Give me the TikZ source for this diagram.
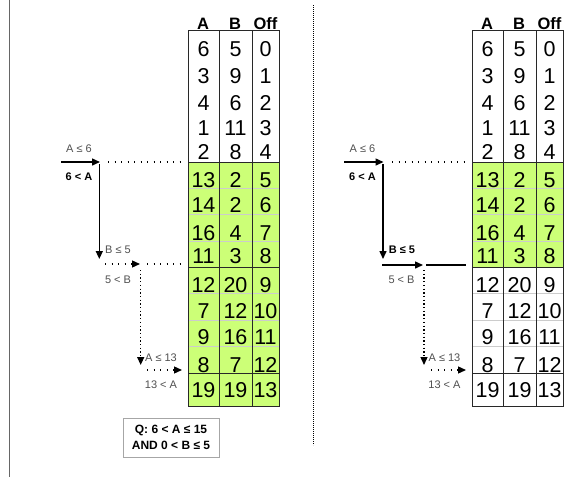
\documentclass[tikz,border=0pt]{standalone}
\usepackage{fontspec}
\setmainfont{Liberation Sans}
\usetikzlibrary{arrows.meta}
\definecolor{lime}{RGB}{204,255,119}
\definecolor{lbl}{RGB}{80,80,80}
\definecolor{blk}{RGB}{40,40,40}
\begin{document}
\begin{tikzpicture}[x=1pt,y=-1pt,
  num/.style={font=\fontsize{21.5}{21.5}\selectfont, anchor=base, inner sep=0pt},
  hdr/.style={font=\fontsize{16.5}{16.5}\selectfont\bfseries, anchor=base, inner sep=0pt},
  lab/.style={font=\fontsize{11}{11}\selectfont, text=lbl, anchor=base, inner sep=0pt},
  blab/.style={font=\fontsize{11}{11}\selectfont\bfseries, anchor=base, inner sep=0pt},
  solidarrow/.style={line width=1.5pt, -{Triangle[length=8pt,width=7pt]}},
  solidline/.style={line width=1.5pt},
  hdots/.style={line width=1.3pt, dash pattern=on 1.3pt off 5.2pt},
  vdots/.style={line width=1.3pt, dash pattern=on 1.3pt off 2.4pt},
  hdotarrow/.style={hdots, -{Triangle[length=8pt,width=7pt]}},
  vdotarrow/.style={vdots, -{Triangle[length=8pt,width=7pt]}},
  sepline/.style={draw=gray!40, line width=0.5pt},
  blkline/.style={draw=blk, line width=1pt},
  qbox/.style={draw=gray!70, line width=1pt, fill=white, align=center,
    font=\fontsize{12}{16}\selectfont\bfseries, minimum width=96pt, minimum height=39pt, inner sep=0pt}
]
\useasboundingbox (0,0) rectangle (565,477);
\fill[white] (0,0) rectangle (565,477);
% frame line and divider
\coordinate (frameT) at (9.3,0); \coordinate (frameB) at (9.3,477);
\draw[draw=gray!80!black, line width=1pt] (frameT) -- (frameB);
\coordinate (divT) at (313,5); \coordinate (divB) at (313,445);
\draw[line width=0.8pt, dash pattern=on 0.8pt off 1.2pt] (divT) -- (divB);

% tables
\foreach \s/\o/\gb in {L/0/406, R/284/267}{
  \begin{scope}[xshift=\o]
    \fill[lime] (188,162) rectangle (279,\gb);
    \foreach \y in {188.25,214.5,240.75,293.5,320,346.5} \draw[sepline] (188,\y) -- (279,\y);
    \foreach \y in {162,267,373} \draw[blkline] (188,\y) -- (279,\y);
    \draw[blkline] (188,30) rectangle (279,406);
    \draw[blkline] (219,30) -- (219,406);
    \draw[blkline] (252,30) -- (252,406);
    \node[hdr] (\s-hA) at (203,29.5) {A};
    \node[hdr] (\s-hB) at (235,29.5) {B};
    \node[hdr] (\s-hO) at (265.5,29.5) {Off};
    \foreach \a/\b/\c/\yb [count=\i] in {6/5/0/56, 3/9/1/83, 4/6/2/110, 1/11/3/135, 2/8/4/159,
        13/2/5/187, 14/2/6/212, 16/4/7/240, 11/3/8/263,
        12/20/9/292, 7/12/10/318, 9/16/11/344, 8/7/12/372, 19/19/13/397}{
      \node[num] (\s-\i-a) at (203.5,\yb) {\a};
      \node[num] (\s-\i-b) at (235.5,\yb) {\b};
      \node[num] (\s-\i-c) at (265.5,\yb) {\c};
    }
  \end{scope}
}

% ---------- left annotations ----------
\node[lab] (la1) at (79,152) {A ≤ 6};
\node[blab] (lb1) at (79,180) {6 < A};
\coordinate (l1s) at (61,162); \coordinate (l1t) at (100,162);
\draw[solidarrow] (l1s) -- (l1t);
\coordinate (l1d) at (108,162); \coordinate (l1e) at (181,162);
\draw[hdots] (l1d) -- (l1e);
\coordinate (l2s) at (99.3,164); \coordinate (l2t) at (99.3,259);
\draw[solidarrow] (l2s) -- (l2t);
\node[lab] (la2) at (118,253) {B ≤ 5};
\coordinate (l3s) at (105,264); \coordinate (l3t) at (140,264);
\draw[hdotarrow] (l3s) -- (l3t);
\coordinate (l3d) at (147,264); \coordinate (l3e) at (181,264);
\draw[hdots] (l3d) -- (l3e);
\node[lab] (lb2) at (118,283) {5 < B};
\coordinate (l4s) at (140.7,270); \coordinate (l4t) at (140.7,365);
\draw[vdotarrow] (l4s) -- (l4t);
\node[lab] (la3) at (161,361) {A ≤ 13};
\coordinate (l5s) at (147,370); \coordinate (l5t) at (182,370);
\draw[hdotarrow] (l5s) -- (l5t);
\node[lab] (lb3) at (161,388) {13 < A};
\node[qbox] (q) at (171,437.5) {Q: 6 < A ≤ 15\\AND 0 < B ≤ 5};

% ---------- right annotations ----------
\node[lab] (ra1) at (362.5,152) {A ≤ 6};
\node[blab] (rb1) at (362.5,180) {6 < A};
\coordinate (r1s) at (344,162); \coordinate (r1t) at (383.5,162);
\draw[solidarrow] (r1s) -- (r1t);
\coordinate (r1d) at (392,162); \coordinate (r1e) at (465,162);
\draw[hdots] (r1d) -- (r1e);
\coordinate (r2s) at (383,164); \coordinate (r2t) at (383,259);
\draw[solidarrow] (r2s) -- (r2t);
\node[blab] (ra2) at (402,253) {B ≤ 5};
\coordinate (r3s) at (382.3,265); \coordinate (r3t) at (423,265);
\draw[solidarrow] (r3s) -- (r3t);
\coordinate (r3d) at (426,265); \coordinate (r3e) at (466,265);
\draw[solidline] (r3d) -- (r3e);
\node[lab] (rb2) at (401.5,283) {5 < B};
\coordinate (r4s) at (424,270); \coordinate (r4t) at (424,365);
\draw[vdotarrow] (r4s) -- (r4t);
\node[lab] (ra3) at (444.5,361) {A ≤ 13};
\coordinate (r5s) at (431,370); \coordinate (r5t) at (466,370);
\draw[hdotarrow] (r5s) -- (r5t);
\node[lab] (rb3) at (444.5,388) {13 < A};
\end{tikzpicture}
\end{document}
